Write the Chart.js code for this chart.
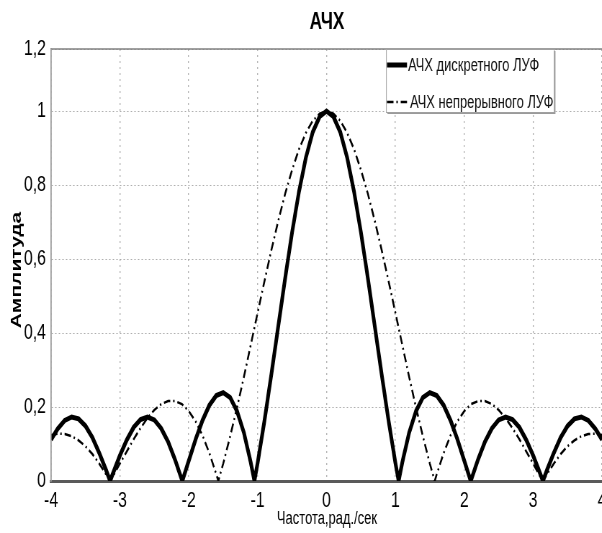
<!DOCTYPE html>
<html><head><meta charset="utf-8">
<script src="https://cdn.jsdelivr.net/npm/chart.js@4.4.1/dist/chart.umd.min.js"></script>
<style>
html,body{margin:0;padding:0;overflow:hidden;background:#fff;width:602px;height:533px}
#wrap{position:absolute;left:0;top:0;width:850px;height:533px;transform:scaleX(0.72);transform-origin:0 0}
</style></head><body>
<div id="wrap"><canvas id="c"></canvas></div>
<script>
// ---- data ----
const chartTitle = 'АЧХ';
const xTitle = 'Частота,рад./сек';
const yTitle = 'Амплитуда';
const seriesNames = ['АЧХ дискретного ЛУФ', 'АЧХ непрерывного ЛУФ'];

const freqDiscrete = [-4.0,-3.9,-3.8,-3.7,-3.6,-3.5,-3.4,-3.3,-3.2,-3.142,-3.1,-3.0,-2.9,-2.8,-2.7,-2.6,-2.5,-2.4,-2.3,-2.2,-2.094,-2.0,-1.9,-1.8,-1.7,-1.6,-1.5,-1.4,-1.3,-1.2,-1.1,-1.047,-1.0,-0.9,-0.8,-0.7,-0.6,-0.5,-0.4,-0.3,-0.2,-0.1,
  0, 0.1,0.2,0.3,0.4,0.5,0.6,0.7,0.8,0.9,1.0,1.047,1.1,1.2,1.3,1.4,1.5,1.6,1.7,1.8,1.9,2.0,2.094,2.2,2.3,2.4,2.5,2.6,2.7,2.8,2.9,3.0,3.1,3.142,3.2,3.3,3.4,3.5,3.6,3.7,3.8,3.9,4.0];
const ampDiscrete = [0.112,0.142,0.164,0.173,0.168,0.149,0.118,0.076,0.029,0,0.021,0.069,0.111,0.145,0.166,0.173,0.165,0.142,0.106,0.058,0,0.055,0.113,0.164,0.205,0.231,0.239,0.226,0.189,0.131,0.050,0,0.049,0.164,0.289,0.419,0.549,0.672,0.782,0.874,0.943,0.985,
  1, 0.985,0.943,0.874,0.782,0.672,0.549,0.419,0.289,0.164,0.049,0,0.050,0.131,0.189,0.226,0.239,0.231,0.205,0.164,0.113,0.055,0,0.058,0.106,0.142,0.165,0.173,0.166,0.145,0.111,0.069,0.021,0,0.029,0.076,0.118,0.149,0.168,0.173,0.164,0.142,0.112];

const freqContinuous = [-4.0,-3.9,-3.8,-3.7,-3.6,-3.5,-3.4,-3.3,-3.2,-3.142,-3.1,-3.0,-2.9,-2.8,-2.7,-2.6,-2.5,-2.4,-2.3,-2.2,-2.1,-2.0,-1.9,-1.8,-1.7,-1.6,-1.571,-1.5,-1.4,-1.3,-1.2,-1.1,-1.0,-0.9,-0.8,-0.7,-0.6,-0.5,-0.4,-0.3,-0.2,-0.1,
  0, 0.1,0.2,0.3,0.4,0.5,0.6,0.7,0.8,0.9,1.0,1.1,1.2,1.3,1.4,1.5,1.571,1.6,1.7,1.8,1.9,2.0,2.1,2.2,2.3,2.4,2.5,2.6,2.7,2.8,2.9,3.0,3.1,3.142,3.2,3.3,3.4,3.5,3.6,3.7,3.8,3.9,4.0];
const ampContinuous = [0.124,0.128,0.127,0.121,0.110,0.094,0.073,0.047,0.018,0,0.013,0.047,0.080,0.113,0.143,0.170,0.192,0.208,0.216,0.216,0.208,0.189,0.161,0.123,0.075,0.018,0,0.047,0.120,0.198,0.281,0.368,0.455,0.541,0.625,0.704,0.777,0.841,0.897,0.941,0.974,0.993,
  1, 0.993,0.974,0.941,0.897,0.841,0.777,0.704,0.625,0.541,0.455,0.368,0.281,0.198,0.120,0.047,0,0.018,0.075,0.123,0.161,0.189,0.208,0.216,0.216,0.208,0.192,0.170,0.143,0.113,0.080,0.047,0.013,0,0.018,0.047,0.073,0.094,0.110,0.121,0.127,0.128,0.124];

const xTickValues = [-4,-3,-2,-1,0,1,2,3,4];
const xTickLabels = ['-4','-3','-2','-1','0','1','2','3','4'];
const yTickValues = [0,0.2,0.4,0.6,0.8,1,1.168];
const yTickLabels = ['0','0,2','0,4','0,6','0,8','1','1,2'];

// ---- drawing ----
const S = 0.72; // horizontal compression of the whole figure
const FONT = '"Liberation Sans", Arial, sans-serif';
const NARROW = '"Liberation Sans Narrow", "Liberation Sans", Arial, sans-serif';

const decor = {
  id: 'decor',
  afterDraw(chart) {
    const ctx = chart.ctx, a = chart.chartArea;
    ctx.save();
    ctx.setLineDash([]);
    // frame: top and left
    ctx.strokeStyle = '#808080'; ctx.lineWidth = 1.5;
    ctx.beginPath(); ctx.moveTo(a.left, a.top); ctx.lineTo(a.right + 2, a.top); ctx.stroke();
    ctx.strokeStyle = '#a0a0a0'; ctx.lineWidth = 1.6;
    ctx.beginPath(); ctx.moveTo(a.left, a.top); ctx.lineTo(a.left, a.bottom); ctx.stroke();

    ctx.fillStyle = '#000'; ctx.textAlign = 'center'; ctx.textBaseline = 'middle';
    ctx.font = 'bold 24px ' + FONT;
    ctx.fillText(chartTitle, 327 / S, 22);
    ctx.font = '18px ' + FONT;
    ctx.fillText(xTitle, 327 / S, 519);
    ctx.save();
    ctx.translate(17 / S, 270); ctx.rotate(-Math.PI / 2);
    ctx.font = 'bold 21px ' + FONT;
    ctx.fillText(yTitle, 0, 0);
    ctx.restore();

    // legend box
    const L = 386 / S, R = 554 / S, T = 49, B = 112;
    ctx.fillStyle = '#9a9a9a';
    ctx.fillRect(L + 2, T + 2, R - L, B - T);
    ctx.fillStyle = '#fff';
    ctx.fillRect(L, T, R - L, B - T);
    ctx.strokeStyle = '#a0a0a0'; ctx.lineWidth = 1;
    ctx.strokeRect(L + 0.5, T + 0.5, R - L, B - T);
    const ds = chart.data.datasets;
    const rows = [65, 102];
    ds.forEach((d, i) => {
      ctx.strokeStyle = d.borderColor; ctx.lineWidth = d.borderWidth;
      ctx.setLineDash(d.borderDash || []);
      ctx.beginPath(); ctx.moveTo(387 / S, rows[i]); ctx.lineTo(407 / S, rows[i]); ctx.stroke();
      ctx.setLineDash([]);
      ctx.fillStyle = '#111'; ctx.textAlign = 'left'; ctx.font = '18px ' + FONT;
      ctx.fillText(d.label, (i === 0 ? 408 : 410) / S, rows[i] + 1);
    });
    ctx.restore();
  }
};

new Chart(document.getElementById('c'), {
  type: 'scatter',
  data: {
    datasets: [
      { label: seriesNames[0], data: freqDiscrete.map((f, i) => ({ x: f, y: ampDiscrete[i] })),
        showLine: true, borderColor: '#000', borderWidth: 5, pointRadius: 0, tension: 0 },
      { label: seriesNames[1], data: freqContinuous.map((f, i) => ({ x: f, y: ampContinuous[i] })),
        showLine: true, borderColor: '#000', borderWidth: 2.5, borderDash: [9, 4, 2, 4], pointRadius: 0, tension: 0 }
    ]
  },
  options: {
    responsive: true, maintainAspectRatio: false, animation: false,
    layout: { padding: { top: 49, right: 850 - 602 / S, left: 0, bottom: 0 } },
    plugins: { legend: { display: false }, tooltip: { enabled: false }, title: { display: false } },
    scales: {
      x: {
        type: 'linear', min: -4, max: 4,
        afterFit: s => { s.height = 52; },
        afterBuildTicks: s => { s.ticks = xTickValues.map(v => ({ value: v })); },
        ticks: { padding: 7, color: '#000', font: { family: NARROW, size: 22 },
                 callback: (v) => xTickLabels[xTickValues.indexOf(v)] },
        grid: { color: '#b4b4b4', lineWidth: 1.4, drawTicks: false },
        border: { color: '#5a5a5a', width: 3, dash: [2, 4] }
      },
      y: {
        min: 0, max: 1.168,
        afterFit: s => { s.width = 51 / S; },
        afterBuildTicks: s => { s.ticks = yTickValues.map(v => ({ value: v })); },
        ticks: { padding: 7, color: '#000', font: { family: NARROW, size: 22 },
                 callback: (v) => yTickLabels[yTickValues.indexOf(v)] },
        grid: { color: '#a8a8a8', lineWidth: 1, drawTicks: false },
        border: { color: '#9a9a9a', width: 1.5, dash: [2, 3] }
      }
    }
  },
  plugins: [decor]
});
</script>
</body></html>
